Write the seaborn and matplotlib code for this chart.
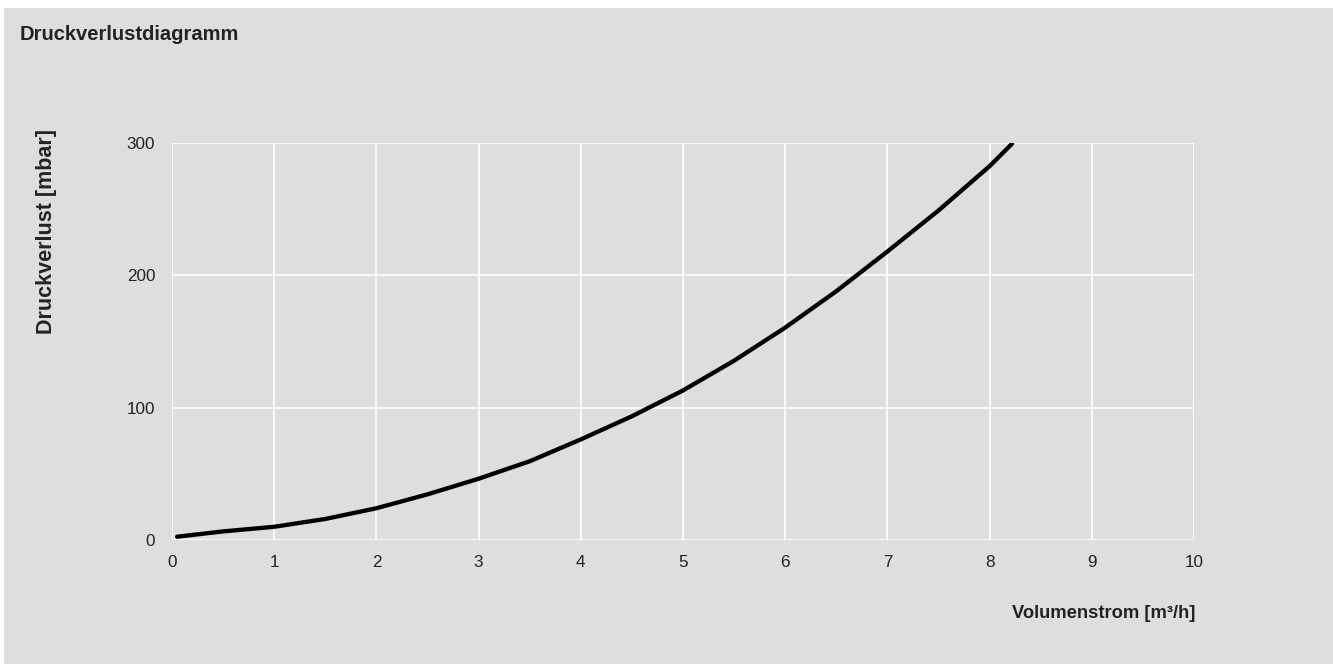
import pandas as pd
import matplotlib.pyplot as plt
import seaborn as sns
from matplotlib.patches import Rectangle

# Werte
volumenstrom = [0.05, 0.5, 1, 1.5, 2, 2.5, 3, 3.5, 4, 4.5, 5, 5.5, 6, 6.5, 7, 7.5, 8, 8.22]
druckverlust = [2.5, 6.5, 10, 15.9, 24, 34.5, 46.3, 59.5, 76, 93.5, 113, 135.5, 160.5, 188, 218, 249, 282.5, 299.5]
x_ticks = list(range(0, 11))
y_ticks = [0, 100, 200, 300]

data = pd.DataFrame({'Volumenstrom': volumenstrom, 'Druckverlust': druckverlust})

bg = '#dedede'
txt = '#222222'

sns.set_style('whitegrid', {'axes.facecolor': bg, 'grid.color': 'white'})
plt.rcParams['font.family'] = ['Liberation Sans', 'DejaVu Sans']

fig = plt.figure(figsize=(13.33, 6.64), dpi=100, facecolor='white')
fig.patches.append(Rectangle((4 / 1333, 0), 1, 1 - 8 / 664, transform=fig.transFigure,
                             facecolor=bg, edgecolor='none', zorder=-10))
ax = fig.add_axes([172 / 1333, 1 - 540 / 664, (1194 - 172) / 1333, (540 - 143) / 664])

sns.lineplot(x='Volumenstrom', y='Druckverlust', data=data, ax=ax,
             color='black', linewidth=3.1, solid_capstyle='round', solid_joinstyle='round')

ax.set_xlim(0, 10)
ax.set_ylim(0, 300)
ax.set_xticks(x_ticks)
ax.set_yticks(y_ticks)
ax.grid(True, color='white', linewidth=1.2)
for s in ax.spines.values():
    s.set_visible(False)
ax.tick_params(axis='both', colors='white', length=6, width=1.2, labelsize=12.3,
               labelcolor=txt, pad=5)
ax.tick_params(axis='y', pad=6)
ax.set_xlabel('')
ax.set_ylabel('')

fig.text(20 / 1333, 1 - 34 / 664, 'Druckverlustdiagramm', fontsize=14.5,
         fontweight='bold', color=txt, ha='left', va='center')
fig.text(47 / 1333, 1 - 334 / 664, 'Druckverlust [mbar]', fontsize=15.5,
         fontweight='bold', color=txt, rotation=90, ha='center', va='bottom')
fig.text(1195 / 1333, 1 - 613 / 664, 'Volumenstrom [m³/h]', fontsize=13.2,
         fontweight='bold', color=txt, ha='right', va='center')

plt.savefig('out.png', dpi=100, facecolor='white')
